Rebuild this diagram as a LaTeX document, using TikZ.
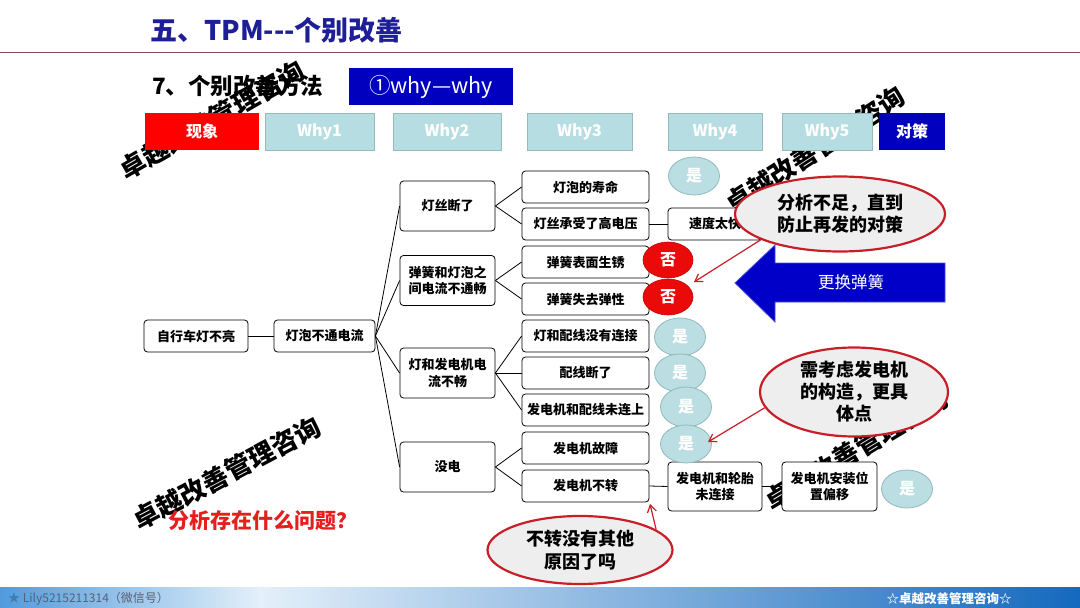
\documentclass[tikz,border=0pt]{standalone}
\usepackage{fontspec}
\setmainfont{Noto Sans CJK SC}
\usetikzlibrary{arrows.meta,shapes.geometric}
\definecolor{titleblue}{RGB}{30,30,150}
\definecolor{dblue}{RGB}{0,0,190}
\definecolor{whyfill}{RGB}{182,221,225}
\definecolor{whyedge}{RGB}{150,185,190}
\definecolor{yesfill}{RGB}{186,222,226}
\definecolor{yesedge}{RGB}{145,185,190}
\definecolor{noteedge}{RGB}{200,30,40}
\definecolor{notefill}{RGB}{238,238,238}
\definecolor{rulecol}{RGB}{140,70,90}
\definecolor{qred}{RGB}{230,30,30}
\definecolor{footA}{RGB}{80,155,220}
\definecolor{footB}{RGB}{228,240,250}
\definecolor{footC}{RGB}{20,105,190}
\definecolor{arrblue}{RGB}{0,0,200}
\definecolor{noredcol}{RGB}{235,10,10}
\definecolor{footgray}{RGB}{90,95,115}
\begin{document}
\begin{tikzpicture}[x=1pt,y=-1pt,
 tbox/.style={draw=black, rounded corners=3.5, line width=0.8, fill=white, align=center, inner sep=0,
   font=\bfseries\fontsize{13}{16.5}\selectfont},
 hdr/.style={minimum height=37, inner sep=0, font=\bfseries\fontsize{16}{18}\selectfont, text=white},
 whyhdr/.style={hdr, fill=whyfill, draw=whyedge, line width=0.8},
 yesell/.style={ellipse, fill=yesfill, draw=yesedge, line width=0.8, minimum width=51, minimum height=38,
   inner sep=0, text=white, font=\bfseries\fontsize{16}{18}\selectfont},
 noell/.style={ellipse, fill=noredcol, draw=noredcol!80!black, line width=0.6, minimum width=50, minimum height=36,
   inner sep=0, text=white, font=\bfseries\fontsize{16}{18}\selectfont},
 note/.style={ellipse, fill=notefill, draw=noteedge, line width=2.2, inner sep=0, align=center,
   font=\bfseries\fontsize{18}{22}\selectfont},
 wmark/.style={font=\bfseries\fontsize{26}{26}\selectfont, text=black, inner sep=0},
 link/.style={line width=0.8, draw=black},
 redarrow/.style={draw=noteedge, line width=1.2, -{Straight Barb[length=7,width=9]}}
]
\useasboundingbox (0,0) rectangle (1080,608);
\fill[white] (0,0) rectangle (1080,608);

% watermarks
\node[wmark, rotate=30] (wm1) at (212,120) {卓越改善管理咨询};
\node[wmark, rotate=33] (wm2) at (815,150) {卓越改善管理咨询};
\node[wmark, rotate=28] (wm3) at (227,473) {卓越改善管理咨询};
\node[wmark, rotate=31] (wm4) at (857,449) {卓越改善管理咨询};

% title
\node[anchor=west, text=titleblue, font=\bfseries\fontsize{27}{30}\selectfont, inner sep=0] (title) at (150,30) {五、TPM{-}{-}{-}个别改善};
\draw[rulecol, line width=1] (0,52) -- (1080,52);

\node[anchor=west, font=\bfseries\fontsize{22.5}{24}\selectfont, inner sep=0] (sub) at (152,86) {7、个别改善方法};
\node[fill=dblue, minimum width=164, minimum height=37, inner sep=0, text=white, font=\fontsize{21.5}{23}\selectfont] (ww) at (431,86.5) {①why—why};

% header bar
\node[hdr, fill=red, minimum width=114] (h0) at (202,131.5) {现象};
\node[whyhdr, minimum width=109] (h1) at (319.5,131.5) {Why1};
\node[whyhdr, minimum width=108] (h2) at (447,131.5) {Why2};
\node[whyhdr, minimum width=105] (h3) at (579.5,131.5) {Why3};
\node[whyhdr, minimum width=94] (h4) at (715,131.5) {Why4};
\node[whyhdr, minimum width=90] (h5) at (827,131.5) {Why5};
\node[hdr, fill=dblue, minimum width=66] (h6) at (912,131.5) {对策};

% tree boxes
\node[tbox, minimum width=104, minimum height=32] (n1) at (196,336) {自行车灯不亮};
\node[tbox, minimum width=101, minimum height=32] (n2) at (324.5,336) {灯泡不通电流};

\node[tbox, minimum width=95, minimum height=50] (a) at (447.5,206) {灯丝断了};
\node[tbox, minimum width=95, minimum height=50] (b) at (447.5,280.5) {弹簧和灯泡之\\间电流不通畅};
\node[tbox, minimum width=95, minimum height=50] (c) at (447.5,373) {灯和发电机电\\流不畅};
\node[tbox, minimum width=95, minimum height=50] (d) at (447.5,467) {没电};

\node[tbox, minimum width=127, minimum height=32] (a1) at (585.5,187) {灯泡的寿命};
\node[tbox, minimum width=127, minimum height=32] (a2) at (585.5,224) {灯丝承受了高电压};
\node[tbox, minimum width=127, minimum height=32] (b1) at (585.5,262) {弹簧表面生锈};
\node[tbox, minimum width=127, minimum height=32] (b2) at (585.5,299) {弹簧失去弹性};
\node[tbox, minimum width=127, minimum height=32] (c1) at (585.5,336) {灯和配线没有连接};
\node[tbox, minimum width=127, minimum height=32] (c2) at (585.5,373) {配线断了};
\node[tbox, minimum width=127, minimum height=32] (c3) at (585.5,410) {发电机和配线未连上};
\node[tbox, minimum width=127, minimum height=32] (d1) at (585.5,448) {发电机故障};
\node[tbox, minimum width=127, minimum height=32] (d2) at (585.5,486) {发电机不转};

\node[tbox, minimum width=94, minimum height=32] (a21) at (715,224) {速度太快};
\node[tbox, minimum width=94, minimum height=49] (d21) at (715,486.5) {发电机和轮胎\\未连接};
\node[tbox, minimum width=95, minimum height=49] (d22) at (829.5,486.5) {发电机安装位\\置偏移};

% connectors
\draw[link] (n1.east) -- (n2.west);
\foreach \t in {a,b,c,d} \draw[link] (n2.east) -- (\t.west);
\draw[link] (a.east) -- (a1.west);
\draw[link] (a.east) -- (a2.west);
\draw[link] (b.east) -- (b1.west);
\draw[link] (b.east) -- (b2.west);
\draw[link] (c.east) -- (c1.west);
\draw[link] (c.east) -- (c2.west);
\draw[link] (c.east) -- (c3.west);
\draw[link] (d.east) -- (d1.west);
\draw[link] (d.east) -- (d2.west);
\draw[link] (a2.east) -- (a21.west);
\draw[link] (d2.east) -- (d21.west);
\draw[link] (d21.east) -- (d22.west);

% yes / no marks
\node[yesell] (y0) at (694,176) {是};
\node[noell] (no1) at (668,260) {否};
\node[noell] (no2) at (668,297) {否};
\node[yesell] (y1) at (680,337) {是};
\node[yesell] (y2) at (680,373) {是};
\node[yesell, minimum height=40] (y3) at (686,407) {是};
\node[yesell] (y4) at (686,444) {是};
\node[yesell] (y5) at (907,489) {是};

% blue block arrow
\fill[arrblue, draw=arrblue!70!white, line width=0.8] (735,283) -- (775,245) -- (775,263) -- (945,263) -- (945,302) -- (775,302) -- (775,322) -- cycle;
\node[text=white, font=\fontsize{16.5}{18}\selectfont] (fix) at (851,282) {更换弹簧};

% callouts
\node[note, minimum width=210, minimum height=75] (note1) at (840,214) {分析不足，直到\\防止再发的对策};
\node[note, minimum width=188, minimum height=89] (note2) at (854,392) {需考虑发电机\\的构造，更具\\体点};
\node[note, minimum width=185, minimum height=68, font=\bfseries\fontsize{18}{23}\selectfont] (note3) at (580,550) {不转没有其他\\原因了吗};

\coordinate (t1) at (694,282);
\coordinate (t2) at (708,442);
\coordinate (t3) at (650,504);
\draw[redarrow] (note1.-162) -- (t1);
\draw[redarrow] (note2.-170) -- (t2);
\draw[redarrow] (note3.15) -- (t3);

\node[text=qred, font=\bfseries\fontsize{21}{24}\selectfont, inner sep=0] (q) at (263,521) {分析存在什么问题？};

% footer
\shade[left color=footA, right color=footB] (0,587) rectangle (260,608);
\shade[left color=footB, right color=footC] (259.5,587) rectangle (1080,608);
\node[anchor=west, text=footgray, font=\fontsize{12}{14}\selectfont, inner sep=0] (f1) at (8,599) {\textcolor{footA!80!black}{★} Lily5215211314（微信号）};
\node[text=white, font=\bfseries\fontsize{12.5}{14}\selectfont, inner sep=0] (f2) at (949,598.5) {☆卓越改善管理咨询☆};
\end{tikzpicture}
\end{document}
